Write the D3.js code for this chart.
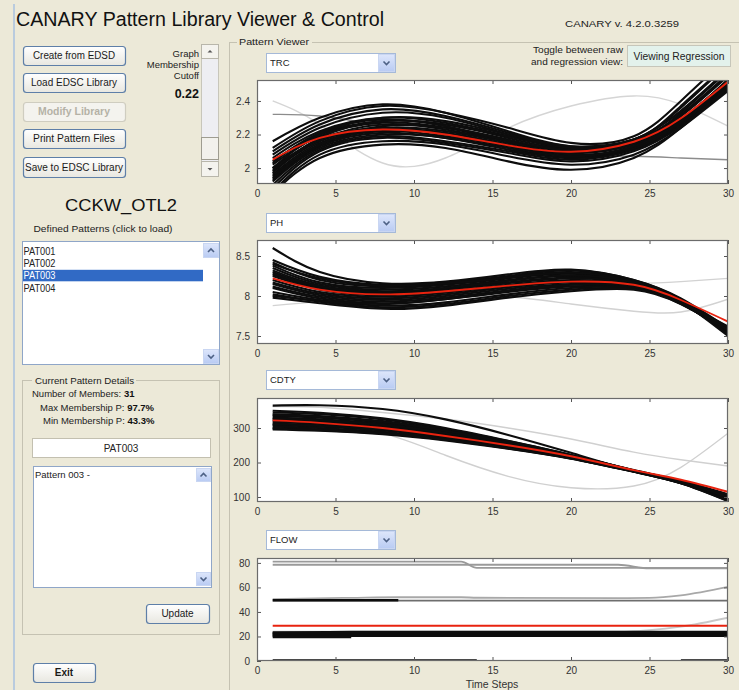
<!DOCTYPE html>
<html><head><meta charset="utf-8">
<script src="https://cdn.jsdelivr.net/npm/d3@7"></script>
<style>
body{margin:0;background:#ECE9D8;}
svg{display:block;font-family:Arial,"Liberation Sans",sans-serif;}
</style></head>
<body><svg id="c" width="739" height="690"></svg>
<script>
// ---------------- DATA ----------------
const variables = ["TRC", "PH", "CDTY", "FLOW"];
const knotSteps = [1, 4, 8, 12, 16, 20, 24, 27, 30];
const flowSteps = [1, 6, 9, 13, 14, 23, 25, 27, 30];
const xTicks = [0, 5, 10, 15, 20, 25, 30];
const trcTicks = [2, 2.2, 2.4];
const phTicks = [7.5, 8, 8.5];
const cdtyTicks = [100, 200, 300];
const flowTicks = [0, 20, 40, 60, 80];

const trcMean = [2.05, 2.18, 2.23, 2.20, 2.135, 2.097, 2.157, 2.297, 2.515];
const trcMembers = [
  [2.16, 2.30, 2.38, 2.33, 2.22, 2.13, 2.17, 2.36, 2.62],
  [2.12, 2.28, 2.37, 2.33, 2.24, 2.15, 2.19, 2.40, 2.66],
  [2.10, 2.26, 2.35, 2.31, 2.21, 2.12, 2.16, 2.37, 2.62],
  [2.08, 2.24, 2.33, 2.30, 2.20, 2.11, 2.15, 2.33, 2.58],
  [2.06, 2.22, 2.30, 2.27, 2.19, 2.12, 2.17, 2.34, 2.58],
  [2.04, 2.20, 2.28, 2.26, 2.18, 2.11, 2.16, 2.32, 2.56],
  [2.02, 2.19, 2.27, 2.24, 2.16, 2.10, 2.15, 2.31, 2.55],
  [2.00, 2.17, 2.26, 2.23, 2.16, 2.11, 2.17, 2.34, 2.59],
  [1.98, 2.16, 2.24, 2.22, 2.15, 2.09, 2.14, 2.29, 2.52],
  [1.96, 2.15, 2.23, 2.21, 2.14, 2.08, 2.13, 2.28, 2.50],
  [1.95, 2.14, 2.22, 2.19, 2.13, 2.07, 2.12, 2.27, 2.49],
  [1.93, 2.13, 2.21, 2.18, 2.12, 2.06, 2.12, 2.27, 2.50],
  [1.92, 2.12, 2.20, 2.18, 2.11, 2.06, 2.11, 2.26, 2.48],
  [1.90, 2.11, 2.19, 2.16, 2.10, 2.05, 2.11, 2.26, 2.50],
  [1.88, 2.10, 2.18, 2.15, 2.09, 2.04, 2.10, 2.25, 2.47],
  [1.86, 2.08, 2.16, 2.14, 2.07, 2.02, 2.08, 2.24, 2.46],
  [1.85, 2.06, 2.14, 2.12, 2.04, 1.99, 2.06, 2.24, 2.48],
  [1.97, 2.18, 2.28, 2.26, 2.19, 2.12, 2.15, 2.29, 2.52],
  [2.00, 2.20, 2.30, 2.28, 2.20, 2.13, 2.17, 2.31, 2.55],
  [1.94, 2.14, 2.25, 2.24, 2.17, 2.10, 2.14, 2.28, 2.50],
  [2.03, 2.21, 2.29, 2.25, 2.16, 2.08, 2.12, 2.27, 2.51],
  [1.99, 2.17, 2.24, 2.20, 2.13, 2.07, 2.13, 2.28, 2.53]
];
const trcOthers = [
  [2.40, 2.26, 2.03, 2.06, 2.24, 2.37, 2.43, 2.38, 2.25],
  [2.32, 2.31, 2.25, 2.18, 2.12, 2.08, 2.07, 2.06, 2.05]
];

const phMean = [8.22, 8.08, 8.02, 8.06, 8.13, 8.18, 8.14, 7.95, 7.68];
const phMembers = [
  [8.60, 8.30, 8.16, 8.18, 8.27, 8.33, 8.20, 7.97, 7.60],
  [8.45, 8.24, 8.14, 8.17, 8.25, 8.32, 8.20, 7.96, 7.58],
  [8.42, 8.20, 8.12, 8.15, 8.24, 8.30, 8.19, 7.95, 7.57],
  [8.38, 8.17, 8.10, 8.14, 8.22, 8.28, 8.18, 7.94, 7.55],
  [8.35, 8.15, 8.08, 8.12, 8.20, 8.26, 8.17, 7.93, 7.56],
  [8.32, 8.13, 8.06, 8.10, 8.19, 8.25, 8.16, 7.93, 7.54],
  [8.30, 8.11, 8.04, 8.09, 8.17, 8.23, 8.16, 7.92, 7.53],
  [8.27, 8.10, 8.03, 8.08, 8.16, 8.22, 8.15, 7.92, 7.55],
  [8.25, 8.08, 8.01, 8.06, 8.14, 8.20, 8.14, 7.93, 7.58],
  [8.20, 8.05, 7.99, 8.04, 8.13, 8.19, 8.13, 7.91, 7.55],
  [8.17, 8.03, 7.97, 8.02, 8.11, 8.17, 8.12, 7.91, 7.56],
  [8.15, 8.01, 7.95, 8.00, 8.09, 8.15, 8.12, 7.92, 7.60],
  [8.12, 7.99, 7.93, 7.98, 8.07, 8.14, 8.11, 7.91, 7.58],
  [8.10, 7.97, 7.91, 7.96, 8.05, 8.12, 8.10, 7.90, 7.57],
  [8.05, 7.95, 7.88, 7.92, 8.02, 8.10, 8.10, 7.92, 7.62],
  [8.02, 7.93, 7.86, 7.90, 8.00, 8.08, 8.09, 7.91, 7.60],
  [7.98, 7.91, 7.84, 7.88, 7.98, 8.06, 8.08, 7.90, 7.58],
  [8.40, 8.22, 8.13, 8.16, 8.23, 8.29, 8.18, 7.94, 7.52],
  [8.28, 8.12, 8.05, 8.10, 8.19, 8.26, 8.17, 7.93, 7.50],
  [8.00, 7.94, 7.90, 7.96, 8.06, 8.14, 8.12, 7.92, 7.61]
];
const phOthers = [
  [7.88, 7.93, 7.97, 7.99, 7.99, 7.90, 7.81, 7.80, 7.96],
  [8.30, 8.15, 8.05, 8.05, 8.12, 8.17, 8.16, 8.18, 8.22]
];

const cdtyMean = [322, 315, 300, 277, 250, 218, 178, 150, 115];
const cdtyMembers = [
  [365, 366, 355, 325, 280, 228, 175, 140, 95],
  [345, 340, 325, 298, 262, 222, 178, 146, 100],
  [340, 335, 320, 294, 260, 221, 177, 145, 98],
  [335, 330, 316, 291, 258, 220, 176, 144, 97],
  [330, 325, 312, 288, 256, 219, 176, 144, 96],
  [325, 320, 308, 285, 254, 218, 176, 143, 95],
  [320, 316, 304, 282, 252, 217, 175, 143, 94],
  [316, 312, 300, 279, 250, 216, 175, 142, 93],
  [312, 308, 297, 276, 248, 215, 175, 142, 92],
  [308, 304, 293, 273, 246, 214, 174, 141, 91],
  [304, 300, 289, 270, 244, 213, 174, 141, 90],
  [300, 296, 286, 267, 242, 212, 173, 140, 89],
  [296, 292, 282, 264, 240, 211, 173, 140, 88],
  [350, 344, 328, 300, 263, 222, 177, 147, 102],
  [328, 322, 309, 286, 255, 218, 176, 145, 104],
  [310, 306, 296, 276, 249, 216, 176, 146, 108],
  [298, 294, 284, 266, 241, 212, 174, 144, 106],
  [338, 332, 318, 292, 257, 219, 176, 144, 99]
];
const cdtyOthers = [
  [325, 315, 285, 221, 160, 127, 132, 186, 285],
  [362, 360, 345, 326, 300, 268, 230, 208, 190]
];

const flowMean = [28.8, 28.8, 28.8, 28.8, 28.8, 28.8, 28.8, 28.8, 28.8];
const flowMembers = [
  [49.5, 49.5, 49.5, null, null, null, null, null, null],
  [19.6, 19.6, null, null, null, null, null, null, null],
  [20.5, 20.5, 20.5, 20.5, 20.5, 20.5, 20.5, 20.5, 20.5],
  [21.3, 21.3, 21.3, 21.3, 21.3, 21.3, 21.3, 21.3, 21.3],
  [22.0, 22.0, 22.0, 22.0, 22.0, 22.0, 22.0, 22.0, 22.0],
  [22.7, 22.7, 22.7, 22.7, 22.7, 22.7, 22.7, 22.7, 22.7],
  [23.3, 23.6, 23.6, 23.6, 23.6, 23.6, 23.6, 23.6, 23.6],
  [0.5, 0.5, 0.5, 0.5, 0.5, null, null, 0.5, 0.5]
];
const flowOthers = [
  [81, 81, 81, 81, 76, 76, 76, 76, 76],
  [78.5, 78.5, 78.5, 78.5, 78.5, 78.5, 75.5, 75.5, 75.5],
  [49.3, 49.3, 49.3, 49.3, 49.3, 49.3, 49.3, 49.3, 49.3],
  [50.5, 51.5, 52, 52, 51.6, 51.2, 51.4, 53.5, 60.4],
  [24, 24, 24, 24, 24, 24, 25.2, 28, 35.3]
];

const patternList = ["PAT001", "PAT002", "PAT003", "PAT004"];
const selectedPattern = "PAT003";
const memberCount = 31;
const maxMembership = "97.7%";
const minMembership = "43.3%";
const cutoff = "0.22";
const libraryName = "CCKW_OTL2";

// ---------------- DRAW ----------------
const svg = d3.select("#c");
const defs = svg.append("defs");
const bg = defs.append("linearGradient").attr("id", "btn").attr("x1", 0).attr("y1", 0).attr("x2", 0).attr("y2", 1);
bg.append("stop").attr("offset", "0%").attr("stop-color", "#FFFFFF");
bg.append("stop").attr("offset", "100%").attr("stop-color", "#E8E7E0");
const ab = defs.append("linearGradient").attr("id", "arr").attr("x1", 0).attr("y1", 0).attr("x2", 0).attr("y2", 1);
ab.append("stop").attr("offset", "0%").attr("stop-color", "#DDE6FB");
ab.append("stop").attr("offset", "100%").attr("stop-color", "#B9CBF3");

svg.append("rect").attr("width", 739).attr("height", 690).attr("fill", "#ECE9D8");

// window frame line
svg.append("line").attr("x1", 14).attr("x2", 14).attr("y1", 4).attr("y2", 690)
  .attr("stroke", "#A9C0E0").attr("stroke-width", 1.5);

// title
svg.append("text").attr("x", 16).attr("y", 26).attr("font-size", 20)
  .attr("textLength", 368).attr("lengthAdjust", "spacingAndGlyphs")
  .attr("fill", "#111").text("CANARY Pattern Library Viewer & Control");
svg.append("text").attr("x", 565).attr("y", 27).attr("font-size", 9)
  .attr("textLength", 114).attr("lengthAdjust", "spacingAndGlyphs")
  .attr("fill", "#222").text("CANARY v. 4.2.0.3259");

function txt(x, y, s, size, opts = {}) {
  const t = svg.append("text").attr("x", x).attr("y", y).attr("font-size", size)
    .attr("fill", opts.fill || "#222").attr("text-anchor", opts.anchor || "start")
    .attr("font-weight", opts.bold ? "bold" : "normal").text(s);
  if (opts.len) t.attr("textLength", opts.len).attr("lengthAdjust", "spacingAndGlyphs");
  return t;
}
function button(x, y, w, h, label, opts = {}) {
  svg.append("rect").attr("x", x + 0.5).attr("y", y + 0.5).attr("width", w).attr("height", h)
    .attr("rx", 3).attr("fill", opts.disabled ? "#F4F3EE" : "url(#btn)")
    .attr("stroke", opts.disabled ? "#CFCDC0" : "#5E7FA8").attr("stroke-width", 1.2);
  txt(x + w / 2, y + h / 2 + 3.8, label, opts.size || 10,
    { anchor: "middle", fill: opts.disabled ? "#B5B2A6" : "#1a1a1a", bold: opts.bold, len: opts.len });
}
function arrowBtn(x, y, w, h, dir) {
  svg.append("rect").attr("x", x + 0.5).attr("y", y + 0.5).attr("width", w - 1).attr("height", h - 1)
    .attr("fill", "url(#arr)").attr("stroke", "#C9D6F2");
  const cx = x + w / 2, cy = y + h / 2;
  const d = dir === "up"
    ? `M${cx - 3},${cy + 1.5}L${cx},${cy - 1.5}L${cx + 3},${cy + 1.5}`
    : `M${cx - 3},${cy - 1.5}L${cx},${cy + 1.5}L${cx + 3},${cy - 1.5}`;
  svg.append("path").attr("d", d).attr("fill", "none").attr("stroke", "#4D6185").attr("stroke-width", 1.6);
}
function plainArrow(x, y, w, h, dir) {
  svg.append("rect").attr("x", x + 0.5).attr("y", y + 0.5).attr("width", w - 1).attr("height", h - 1)
    .attr("fill", "#F4F3EE").attr("stroke", "#B8B6AA");
  const cx = x + w / 2, cy = y + h / 2;
  const d = dir === "up"
    ? `M${cx - 2.5},${cy + 1}L${cx},${cy - 1.5}L${cx + 2.5},${cy + 1}Z`
    : `M${cx - 2.5},${cy - 1}L${cx},${cy + 1.5}L${cx + 2.5},${cy - 1}Z`;
  svg.append("path").attr("d", d).attr("fill", "#555");
}

// buttons
button(23, 46, 102, 19, "Create from EDSD", { len: 82 });
button(23, 73, 102, 19, "Load EDSC Library", { len: 86 });
button(23, 102, 102, 19, "Modify Library", { disabled: true, bold: true, len: 72 });
button(23, 129, 102, 19, "Print Pattern Files", { len: 82 });
button(23, 157, 102, 20, "Save to EDSC Library", { len: 98 });

// cutoff slider
txt(199, 57, "Graph", 9.5, { anchor: "end" });
txt(199, 68, "Membership", 9.5, { anchor: "end" });
txt(199, 79, "Cutoff", 9.5, { anchor: "end" });
txt(199, 98, cutoff, 12.5, { anchor: "end", bold: true, fill: "#111" });
svg.append("rect").attr("x", 201.5).attr("y", 44.5).attr("width", 17).attr("height", 132)
  .attr("fill", "#EEEEF2").attr("stroke", "#C8C6BA");
plainArrow(201, 44, 18, 15, "up");
svg.append("rect").attr("x", 201.5).attr("y", 137.5).attr("width", 17).attr("height", 22)
  .attr("fill", "#F2F1EC").attr("stroke", "#9E9C90");
plainArrow(201, 161, 18, 16, "down");

// library name and list
txt(121, 211, libraryName, 17, { anchor: "middle", fill: "#111", len: 112 });
txt(103, 232, "Defined Patterns (click to load)", 9.5, { anchor: "middle", len: 139 });
svg.append("rect").attr("x", 22.5).attr("y", 241.5).attr("width", 197).attr("height", 123)
  .attr("fill", "#fff").attr("stroke", "#8FA6C8");
const listTop = 241;
patternList.forEach((p, i) => {
  const yy = listTop + 4 + i * 12.4;
  if (p === selectedPattern) {
    svg.append("rect").attr("x", 23).attr("y", yy).attr("width", 180).attr("height", 11.5).attr("fill", "#316AC5");
  }
  txt(23.5, yy + 9.6, p, 10, { fill: p === selectedPattern ? "#fff" : "#222", len: 32 });
});
arrowBtn(203, 243, 16, 15, "up");
arrowBtn(203, 349, 16, 15, "down");

// current pattern details group
svg.append("rect").attr("x", 22.5).attr("y", 380.5).attr("width", 197).attr("height", 254)
  .attr("fill", "none").attr("stroke", "#C5C2B2");
svg.append("rect").attr("x", 32).attr("y", 375).attr("width", 104).attr("height", 11).attr("fill", "#ECE9D8");
txt(35, 384, "Current Pattern Details", 9.5, { len: 99 });
const t1 = txt(32, 397, "Number of Members: ", 9.5);
t1.append("tspan").attr("font-weight", "bold").attr("fill", "#111").text(memberCount);
const t2 = txt(40, 411, "Max Membership P: ", 9.5);
t2.append("tspan").attr("font-weight", "bold").attr("fill", "#111").text(maxMembership);
const t3 = txt(43, 424, "Min Membership P: ", 9.5);
t3.append("tspan").attr("font-weight", "bold").attr("fill", "#111").text(minMembership);
svg.append("rect").attr("x", 32.5).attr("y", 438.5).attr("width", 178).attr("height", 19)
  .attr("fill", "#fff").attr("stroke", "#C3C0B0");
txt(121, 452, selectedPattern, 10, { anchor: "middle" });
svg.append("rect").attr("x", 33.5).attr("y", 466.5).attr("width", 178).attr("height", 121)
  .attr("fill", "#fff").attr("stroke", "#8FA6C8");
txt(35, 478, "Pattern 003 -", 9.5);
arrowBtn(196, 468, 15, 14, "up");
arrowBtn(196, 572, 15, 14, "down");
button(146, 604, 63, 19, "Update");
button(33, 663, 62, 19, "Exit", { bold: true });

// Pattern viewer group
svg.append("line").attr("x1", 229.5).attr("x2", 229.5).attr("y1", 42).attr("y2", 690).attr("stroke", "#C5C2B2");
svg.append("line").attr("x1", 229.5).attr("x2", 237).attr("y1", 42.5).attr("y2", 42.5).attr("stroke", "#C5C2B2");
svg.append("line").attr("x1", 312).attr("x2", 739).attr("y1", 42.5).attr("y2", 42.5).attr("stroke", "#C5C2B2");
txt(239, 45, "Pattern Viewer", 9.5, { len: 70 });

// toggle
txt(623, 53, "Toggle between raw", 9.5, { anchor: "end", len: 90 });
txt(623, 65, "and regression view:", 9.5, { anchor: "end", len: 92 });
svg.append("rect").attr("x", 627.5).attr("y", 45.5).attr("width", 103).attr("height", 21)
  .attr("fill", "#E3F2EC").attr("stroke", "#C6C6BA");
txt(679, 60, "Viewing Regression", 10, { anchor: "middle", len: 91 });

// ---------- charts ----------
const x = d3.scaleLinear().domain([0, 30]).range([257, 728]);
const panels = [
  { name: variables[0], top: 80, bottom: 184, dom: [1.905, 2.525], ticks: trcTicks, steps: knotSteps,
    mean: trcMean, members: trcMembers, others: trcOthers, otherTones: ["#D5D5D5", "#8C8C8C"], drop: 53, curve: d3.curveNatural },
  { name: variables[1], top: 240, bottom: 344, dom: [7.4, 8.7], ticks: phTicks, steps: knotSteps,
    mean: phMean, members: phMembers, others: phOthers, otherTones: ["#D2D2D2", "#D2D2D2"], drop: 213, curve: d3.curveNatural },
  { name: variables[2], top: 398, bottom: 502, dom: [85.5, 387], ticks: cdtyTicks, steps: knotSteps,
    mean: cdtyMean, members: cdtyMembers, others: cdtyOthers, otherTones: ["#D0D0D0", "#D0D0D0"], drop: 370, curve: d3.curveNatural },
  { name: variables[3], top: 558, bottom: 661, dom: [0, 84], ticks: flowTicks, steps: flowSteps,
    mean: flowMean, members: flowMembers, others: flowOthers, otherTones: ["#9A9A9A", "#9A9A9A", "#6E6E6E", "#A8A8A8", "#C8C8C8"], drop: 530, curve: d3.curveMonotoneX }
];

panels.forEach((p, pi) => {
  // dropdown
  svg.append("rect").attr("x", 266.5).attr("y", p.drop + 0.5).attr("width", 129).attr("height", 19)
    .attr("fill", "#fff").attr("stroke", "#A5B9D8");
  arrowBtn(378, p.drop + 1, 17, 18, "down");
  txt(270, p.drop + 13, p.name, 9.5, { fill: "#222" });

  const y = d3.scaleLinear().domain(p.dom).range([p.bottom, p.top]);
  const clipId = "clip" + pi;
  defs.append("clipPath").attr("id", clipId).append("rect")
    .attr("x", 257).attr("y", p.top).attr("width", 471).attr("height", p.bottom - p.top);
  svg.append("rect").attr("x", 257).attr("y", p.top).attr("width", 471).attr("height", p.bottom - p.top).attr("fill", "#fff");

  const line = d3.line().defined(d => d[1] != null).x(d => x(d[0])).y(d => y(d[1])).curve(p.curve);
  const g = svg.append("g").attr("clip-path", `url(#${clipId})`);
  p.others.forEach((arr, i) => {
    g.append("path").attr("d", line(p.steps.map((s, k) => [s, arr[k]])))
      .attr("fill", "none").attr("stroke", p.otherTones[i]).attr("stroke-width", pi === 3 ? 1.8 : 1.4);
  });
  p.members.forEach(arr => {
    g.append("path").attr("d", line(p.steps.map((s, k) => [s, arr[k]])))
      .attr("fill", "none").attr("stroke", "#0d0d0d").attr("stroke-width", pi === 3 ? 2.4 : 2.1);
  });
  g.append("path").attr("d", line(p.steps.map((s, k) => [s, p.mean[k]])))
    .attr("fill", "none").attr("stroke", "#E8230F").attr("stroke-width", 1.9);

  // axes (MATLAB style: ticks inside, box)
  const ax = svg.append("g").attr("font-family", "Arial, Liberation Sans, sans-serif");
  const bottomAxis = d3.axisBottom(x).tickValues(xTicks).tickSize(-4).tickPadding(6).tickFormat(d3.format("d"));
  const ga = ax.append("g").attr("transform", `translate(0,${p.bottom})`).call(bottomAxis);
  const topAxis = d3.axisTop(x).tickValues(xTicks).tickSize(-4).tickFormat("");
  const gt = ax.append("g").attr("transform", `translate(0,${p.top})`).call(topAxis);
  const leftAxis = d3.axisLeft(y).tickValues(p.ticks).tickSize(-4).tickPadding(7).tickFormat(d => String(d));
  const gl = ax.append("g").attr("transform", `translate(257,0)`).call(leftAxis);
  const rightAxis = d3.axisRight(y).tickValues(p.ticks).tickSize(-4).tickFormat("");
  const gr = ax.append("g").attr("transform", `translate(728,0)`).call(rightAxis);
  [ga, gt, gl, gr].forEach(a => {
    a.select(".domain").remove();
    a.selectAll(".tick line").attr("stroke", "#555");
    a.selectAll("text").attr("font-size", 10).attr("fill", "#333");
  });
  svg.append("rect").attr("x", 257.5).attr("y", p.top + 0.5).attr("width", 470).attr("height", p.bottom - p.top - 1)
    .attr("fill", "none").attr("stroke", "#6b6b6b").attr("stroke-width", 1.2);
});

txt(492, 688, "Time Steps", 10.5, { anchor: "middle", fill: "#333" });
</script>
</body></html>
